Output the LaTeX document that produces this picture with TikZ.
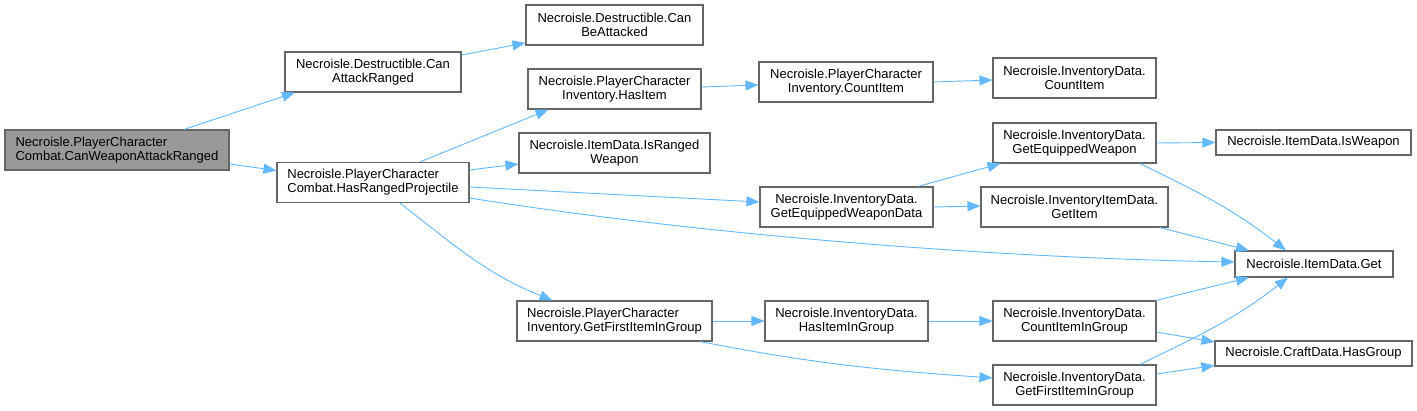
\documentclass[tikz,border=0pt]{standalone}
\usepackage{fontspec}
\setmainfont{Liberation Sans}
\usetikzlibrary{arrows.meta}
\definecolor{edgeblue}{HTML}{63B8FF}
\definecolor{boxborder}{HTML}{666666}
\definecolor{rootfill}{HTML}{999999}
\tikzset{
  fn/.style={draw=boxborder, line width=1.1pt, fill=white, inner sep=0pt, minimum height=40pt,
    font=\fontsize{13}{14}\selectfont, align=center},
  fnl/.style={fn, align=left},
  fn1/.style={fn, minimum height=25pt},
  rootnode/.style={fnl, fill=rootfill},
  call/.style={draw=edgeblue, line width=0.9pt, -{Triangle[length=13pt,width=10pt]}},
}
\begin{document}
\begin{tikzpicture}[x=1pt,y=-1pt]
\useasboundingbox (0,0) rectangle (1417,411);
% nodes
\node[rootnode, minimum width=224pt] (root) at (117,150) {Necroisle.PlayerCharacter\\Combat.CanWeaponAttackRanged};
\node[fn, minimum width=176pt] (car) at (373,72) {Necroisle.Destructible.Can\\AttackRanged};
\node[fn, minimum width=177pt] (cba) at (614.5,25) {Necroisle.Destructible.Can\\BeAttacked};
\node[fnl, minimum width=192pt] (hrp) at (373,182.5) {Necroisle.PlayerCharacter\\Combat.HasRangedProjectile};
\node[fn, minimum width=173pt] (hi) at (614.5,89) {Necroisle.PlayerCharacter\\Inventory.HasItem};
\node[fn, minimum width=191pt] (irw) at (614.5,153) {Necroisle.ItemData.IsRanged\\Weapon};
\node[fnl, minimum width=195pt] (pgf) at (614.5,321) {Necroisle.PlayerCharacter\\Inventory.GetFirstItemInGroup};
\node[fn, minimum width=174pt] (pci) at (846,82) {Necroisle.PlayerCharacter\\Inventory.CountItem};
\node[fn, minimum width=173pt] (gewd) at (846.5,207) {Necroisle.InventoryData.\\GetEquippedWeaponData};
\node[fn, minimum width=163pt] (hiig) at (846.5,321) {Necroisle.InventoryData.\\HasItemInGroup};
\node[fn, minimum width=163pt] (idci) at (1074.5,78) {Necroisle.InventoryData.\\CountItem};
\node[fn, minimum width=163pt] (gew) at (1074.5,143) {Necroisle.InventoryData.\\GetEquippedWeapon};
\node[fn, minimum width=187pt] (gi) at (1074.5,207) {Necroisle.InventoryItemData.\\GetItem};
\node[fn, minimum width=163pt] (ciig) at (1074.5,321) {Necroisle.InventoryData.\\CountItemInGroup};
\node[fn, minimum width=163pt] (gfig) at (1074.5,385) {Necroisle.InventoryData.\\GetFirstItemInGroup};
\node[fn1, minimum width=195pt] (iw) at (1313.5,142.5) {Necroisle.ItemData.IsWeapon};
\node[fn1, minimum width=158pt, minimum height=26pt] (get) at (1314,264) {Necroisle.ItemData.Get};
\node[fn1, minimum width=197pt] (hg) at (1313.5,353.5) {Necroisle.CraftData.HasGroup};
% edges
\draw[call] ([xshift=67pt]root.north) -- ([xshift=-78pt]car.south);
\draw[call] ([yshift=-14pt]root.east) -- ([yshift=12pt]hrp.west);
\draw[call] ([yshift=17pt]car.east) -- ([yshift=-18pt]cba.west);
\draw[call] ([xshift=47pt]hrp.north) -- ([xshift=-66pt]hi.south);
\draw[call] ([yshift=12.5pt]hrp.east) -- ([yshift=-11pt]irw.west);
\draw[call] ([yshift=-4.5pt]hrp.east) -- ([yshift=5pt]gewd.west);
\draw[call] ([yshift=-15.5pt]hrp.east) to[out=-9,in=179,looseness=0.8] ([yshift=2pt]get.west);
\draw[call] ([xshift=27pt]hrp.south) to[out=-38,in=158] ([xshift=-62pt]pgf.north);
\draw[call] ([yshift=2pt]hi.east) -- ([yshift=-3pt]pci.west);
\draw[call] (pci.east) -- ([yshift=-2pt]idci.west);
\draw[call] ([xshift=71.5pt]gewd.north) -- ([xshift=-74pt]gew.south);
\draw[call] (gewd.east) -- ([yshift=1pt]gi.west);
\draw[call] (gew.east) -- (iw.west);
\draw[call] ([xshift=65.5pt]gew.south) to[out=-26,in=142] ([xshift=-28pt]get.north);
\draw[call] ([xshift=85.5pt]gi.south) -- ([xshift=-65pt]get.north);
\draw[call] (pgf.east) -- (hiig.west);
\draw[call] ([xshift=85.5pt]pgf.south) to[out=-11,in=176] ([yshift=7pt]gfig.west);
\draw[call] (hiig.east) -- (ciig.west);
\draw[call] ([xshift=-1pt]ciig.north east) -- ([xshift=-65pt]get.south);
\draw[call] ([yshift=-11pt]ciig.east) -- ([yshift=11.5pt]hg.west);
\draw[call] ([xshift=65.5pt]gfig.north) to[out=26,in=-142] ([xshift=-26pt]get.south);
\draw[call] ([yshift=11pt]gfig.east) -- ([yshift=-12pt]hg.west);
\end{tikzpicture}
\end{document}
